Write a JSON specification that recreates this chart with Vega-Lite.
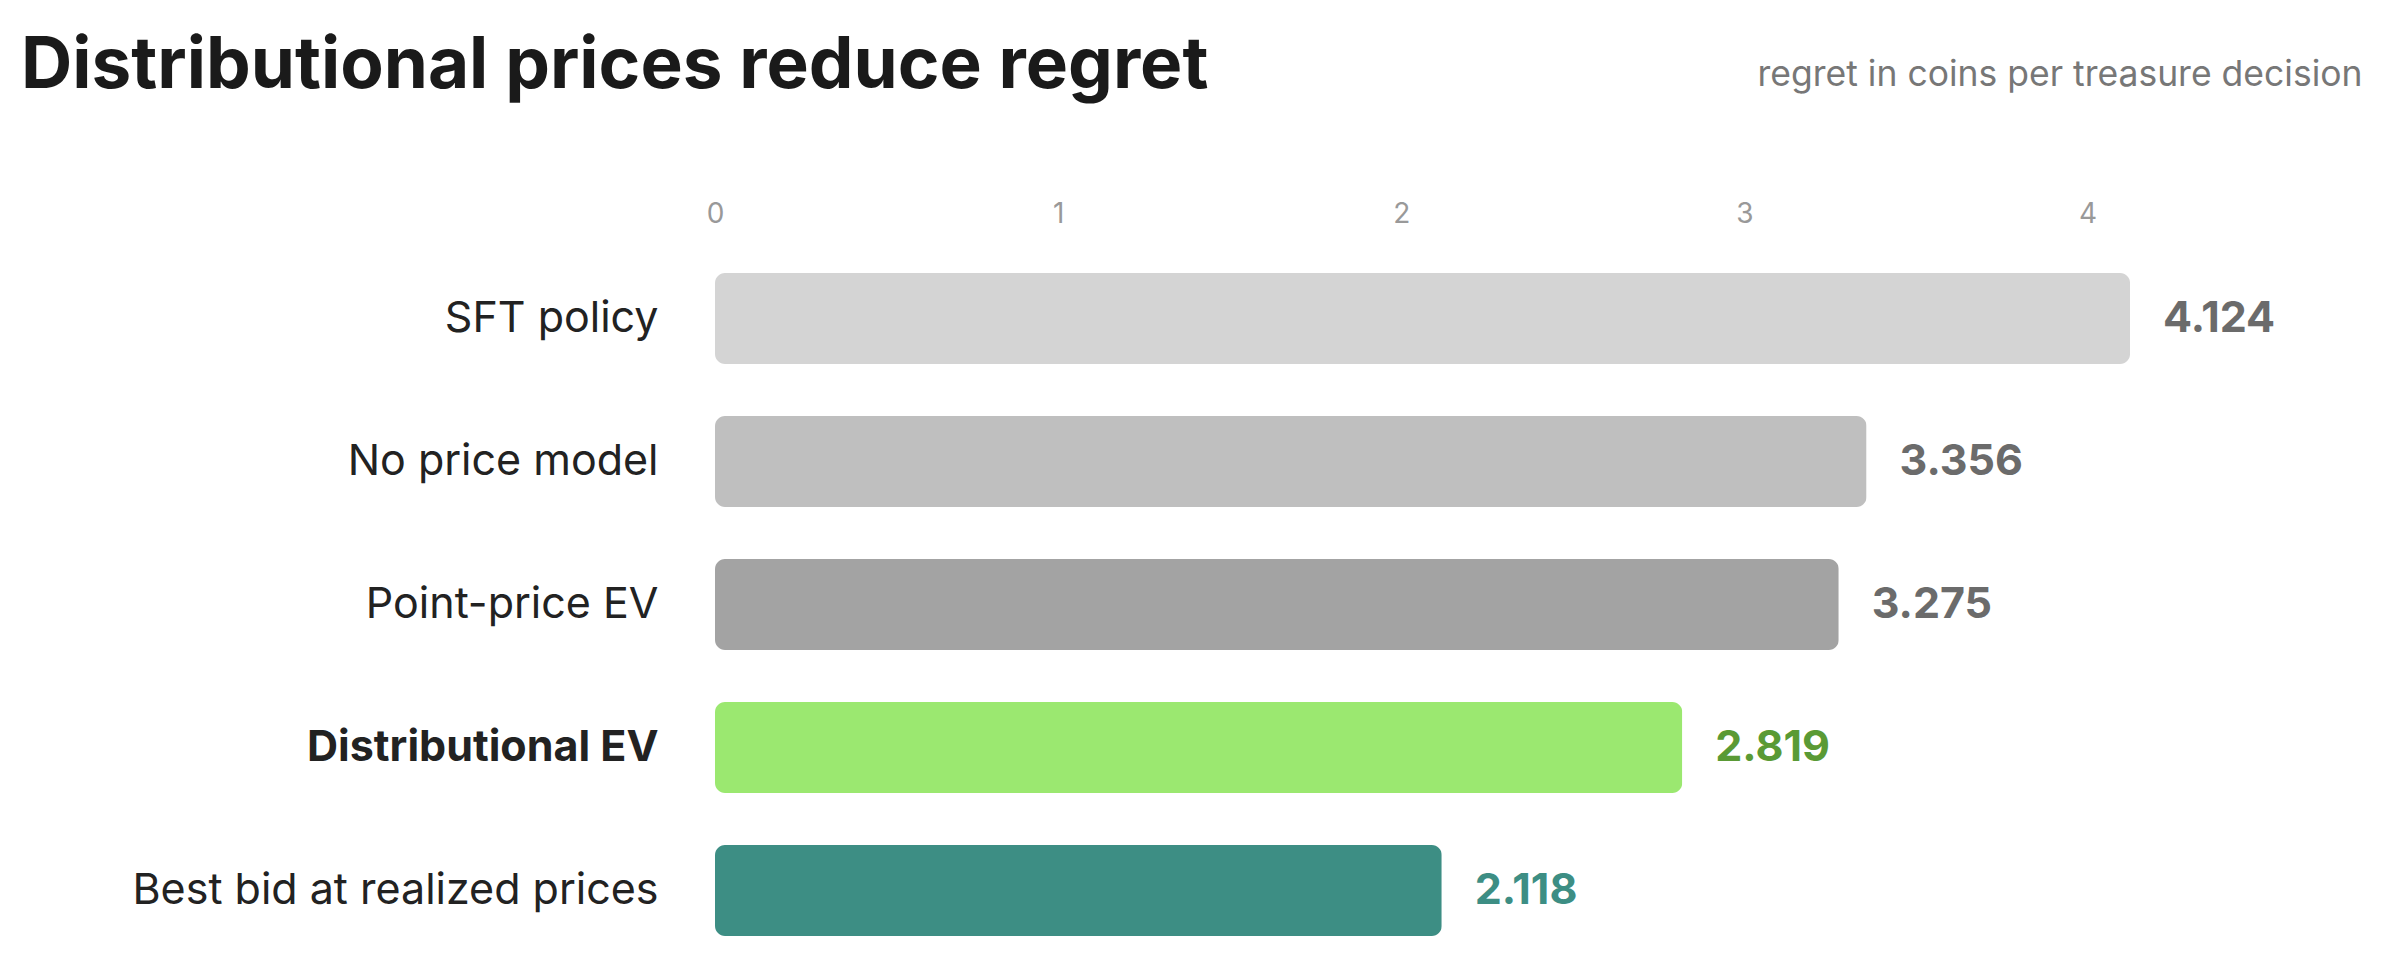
{
  "$schema": "https://vega.github.io/schema/vega-lite/v6.json",
  "width": 1647,
  "height": 715,
  "autosize": "none",
  "padding": {"left": 715, "top": 247, "right": 22, "bottom": 6},
  "background": "white",
  "config": {
    "view": {"stroke": null},
    "font": "Inter"
  },
  "title": {
    "text": "Distributional prices reduce regret",
    "anchor": "start",
    "frame": "group",
    "dx": -694,
    "dy": 50,
    "fontSize": 71,
    "fontWeight": "bold",
    "color": "#1a1a1a",
    "font": "Inter"
  },
  "data": {
    "values": [
      {"method": "SFT policy", "regret": 4.124},
      {"method": "No price model", "regret": 3.356},
      {"method": "Point-price EV", "regret": 3.275},
      {"method": "Distributional EV", "regret": 2.819},
      {"method": "Best bid at realized prices", "regret": 2.118}
    ]
  },
  "encoding": {
    "y": {
      "field": "method",
      "type": "nominal",
      "sort": null,
      "scale": {"paddingInner": 0.364, "paddingOuter": 0.182},
      "axis": {
        "title": null,
        "domain": false,
        "ticks": false,
        "labelPadding": 57,
        "labelLimit": 1000,
        "labelFontSize": 43,
        "labelColor": "#222222",
        "labelFont": "Inter",
        "labelFontWeight": {"condition": {"test": "datum.value == 'Distributional EV'", "value": "bold"}, "value": "normal"}
      }
    },
    "x": {
      "field": "regret",
      "type": "quantitative",
      "scale": {"domain": [0, 4.8]},
      "axis": {
        "orient": "top",
        "values": [0, 1, 2, 3, 4],
        "format": "d",
        "domain": false,
        "ticks": false,
        "tickSize": 0,
        "grid": false,
        "labelFlush": false,
        "labelPadding": 25,
        "labelBaseline": "alphabetic",
        "labelFontSize": 28,
        "labelColor": "#999999",
        "labelFont": "Inter",
        "title": "regret in coins per treasure decision",
        "titleFont": "Inter",
        "titleFontSize": 35.5,
        "titleFontWeight": "normal",
        "titleColor": "#777777",
        "titleAnchor": "end",
        "titleAlign": "right",
        "titleBaseline": "alphabetic",
        "titleX": 1647,
        "titleY": -162
      }
    }
  },
  "layer": [
    {
      "mark": {"type": "bar", "cornerRadius": 10},
      "encoding": {
        "color": {
          "field": "method",
          "type": "nominal",
          "legend": null,
          "scale": {
            "domain": ["SFT policy", "No price model", "Point-price EV", "Distributional EV", "Best bid at realized prices"],
            "range": ["#d4d4d4", "#bfbfbf", "#a3a3a3", "#9be870", "#3d8e84"]
          }
        }
      }
    },
    {
      "mark": {"type": "text", "align": "left", "baseline": "middle", "dx": 33, "fontSize": 43, "fontWeight": "bold", "font": "Inter"},
      "encoding": {
        "text": {"field": "regret", "type": "quantitative", "format": ".3f"},
        "color": {
          "field": "method",
          "type": "nominal",
          "legend": null,
          "scale": {
            "domain": ["SFT policy", "No price model", "Point-price EV", "Distributional EV", "Best bid at realized prices"],
            "range": ["#6b6b6b", "#6b6b6b", "#6b6b6b", "#5a9a35", "#3d8e84"]
          }
        }
      }
    }
  ],
  "resolve": {"scale": {"color": "independent"}}
}
